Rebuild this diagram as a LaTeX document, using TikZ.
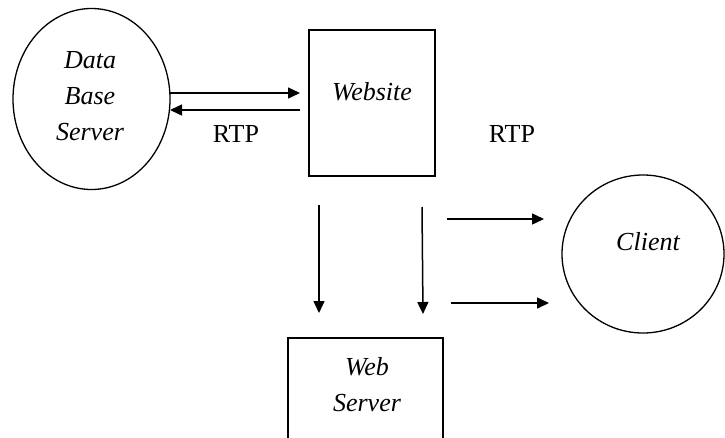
\documentclass[tikz,border=0pt]{standalone}
\usepackage{fontspec}
\setmainfont{Liberation Serif}[ItalicFont={Liberation Serif Italic}]
\usetikzlibrary{arrows.meta,shapes.geometric}
\begin{document}
\begin{tikzpicture}[x=1pt,y=-1pt,
  shp/.style={draw,line width=1.3pt,inner sep=0pt},
  ell/.style={shp,ellipse},
  box/.style={shp,rectangle},
  lbl/.style={font=\fontsize{26}{36}\selectfont\itshape,align=center,inner sep=0pt},
  rtp/.style={font=\fontsize{26}{36}\selectfont,inner sep=0pt},
  arr/.style={line width=1.5pt,-{Triangle[length=12pt,width=11pt]}}]
\path[use as bounding box] (0,0) rectangle (725,437);
\clip (0,0) rectangle (725,437);
% shapes
\node[ell,minimum width=157pt,minimum height=181pt] (db) at (91.5,99) {};
\node[box,minimum width=126pt,minimum height=146pt] (web) at (372,103) {};
\node[box,minimum width=155pt,minimum height=140pt] (ws) at (365.5,408) {};
\node[ell,minimum width=162pt,minimum height=158pt] (cl) at (643,254) {};
% texts
\node[lbl] (dbt) at (90,96) {Data\\Base\\Server};
\node[lbl] (webt) at (372,92) {Website};
\node[lbl] (wst) at (367,385) {Web\\Server};
\node[lbl] (clt) at (648,242) {Client};
\node[rtp] (r1) at (236,134) {RTP};
\node[rtp] (r2) at (512,134) {RTP};
% connector ends
\coordinate (a1s) at (170,93);
\coordinate (a1e) at (300,93);
\coordinate (a2s) at (300,110);
\coordinate (a2e) at (170,110);
\coordinate (d1s) at (319,205);
\coordinate (d1e) at (319,313);
\coordinate (d2s) at (422,207);
\coordinate (d2e) at (423,314);
\coordinate (c1s) at (447,219);
\coordinate (c1e) at (544,219);
\coordinate (c2s) at (451,303);
\coordinate (c2e) at (549,303);
\draw[arr] (a1s) -- (a1e);
\draw[arr] (a2s) -- (a2e);
\draw[arr] (d1s) -- (d1e);
\draw[arr] (d2s) -- (d2e);
\draw[arr] (c1s) -- (c1e);
\draw[arr] (c2s) -- (c2e);
\end{tikzpicture}
\end{document}
